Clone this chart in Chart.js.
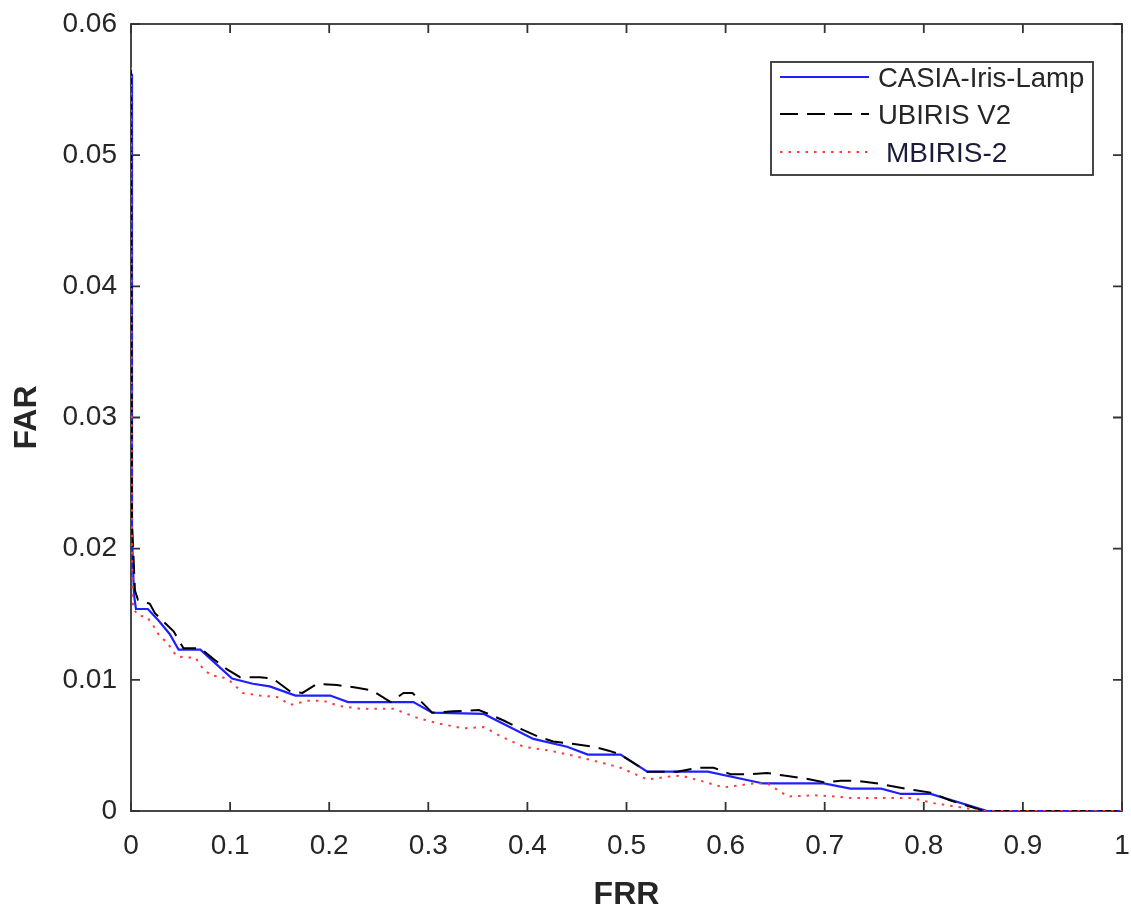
<!DOCTYPE html>
<html><head><meta charset="utf-8">
<script src="https://cdn.jsdelivr.net/npm/chart.js@4.4.1/dist/chart.umd.min.js"></script>
<style>html,body{margin:0;padding:0;background:#fff}#wrap{width:1131px;height:909px;position:relative}</style>
</head><body><div id="wrap"><canvas id="c"></canvas></div>
<script>
const seriesNames = ['CASIA-Iris-Lamp', 'UBIRIS V2', 'MBIRIS-2'];
const axisTitleX = 'FRR';
const axisTitleY = 'FAR';

const casiaFRR = [0, 0.001, 0.003, 0.005, 0.017, 0.028, 0.039, 0.048, 0.070, 0.086, 0.102, 0.123, 0.140, 0.166, 0.201, 0.219, 0.285, 0.304, 0.356, 0.406, 0.440, 0.461, 0.494, 0.521, 0.582, 0.638, 0.699, 0.726, 0.757, 0.777, 0.807, 0.864, 1.0];
const casiaFAR = [0.0562, 0.021, 0.0165, 0.0154, 0.0154, 0.0145, 0.0135, 0.0123, 0.0123, 0.0112, 0.0101, 0.0097, 0.0095, 0.0088, 0.0088, 0.0083, 0.0083, 0.0075, 0.0074, 0.0055, 0.0049, 0.0043, 0.0043, 0.0030, 0.0030, 0.0021, 0.0021, 0.0017, 0.0017, 0.0013, 0.0013, 0, 0];

const ubirisFRR = [0, 0.001, 0.004, 0.007, 0.019, 0.024, 0.032, 0.043, 0.053, 0.070, 0.083, 0.097, 0.110, 0.130, 0.143, 0.161, 0.173, 0.188, 0.208, 0.228, 0.243, 0.262, 0.275, 0.284, 0.292, 0.304, 0.325, 0.351, 0.361, 0.376, 0.395, 0.410, 0.426, 0.447, 0.467, 0.482, 0.494, 0.521, 0.551, 0.572, 0.588, 0.605, 0.625, 0.642, 0.659, 0.679, 0.699, 0.716, 0.733, 0.754, 0.767, 0.790, 0.807, 0.827, 0.861, 1.0];
const ubirisFAR = [0.0565, 0.022, 0.0168, 0.0161, 0.0158, 0.0151, 0.0145, 0.0137, 0.0124, 0.0124, 0.0116, 0.0108, 0.0102, 0.0102, 0.0101, 0.0091, 0.0090, 0.0097, 0.0096, 0.0094, 0.0092, 0.0083, 0.0090, 0.0090, 0.0084, 0.0075, 0.0076, 0.0077, 0.0074, 0.0069, 0.0062, 0.0057, 0.0053, 0.0051, 0.0049, 0.0046, 0.0043, 0.0030, 0.0030, 0.0033, 0.0033, 0.0028, 0.0028, 0.0029, 0.0027, 0.0025, 0.0022, 0.0023, 0.0023, 0.0021, 0.0019, 0.0016, 0.0014, 0.0008, 0, 0];

const mbirisFRR = [0, 0.001, 0.002, 0.007, 0.016, 0.022, 0.029, 0.036, 0.046, 0.056, 0.065, 0.073, 0.082, 0.090, 0.100, 0.113, 0.130, 0.147, 0.161, 0.178, 0.194, 0.211, 0.231, 0.265, 0.289, 0.309, 0.335, 0.356, 0.373, 0.396, 0.423, 0.447, 0.474, 0.494, 0.521, 0.541, 0.555, 0.575, 0.598, 0.628, 0.642, 0.663, 0.689, 0.713, 0.723, 0.787, 0.810, 0.861, 1.0];
const mbirisFAR = [0.0567, 0.020, 0.0155, 0.0149, 0.0148, 0.0142, 0.0133, 0.0129, 0.0118, 0.0117, 0.0117, 0.0108, 0.0103, 0.0103, 0.0099, 0.0090, 0.0088, 0.0087, 0.0081, 0.0084, 0.0084, 0.0080, 0.0078, 0.0078, 0.0071, 0.0067, 0.0063, 0.0064, 0.0057, 0.0049, 0.0046, 0.0042, 0.0037, 0.0033, 0.0024, 0.0026, 0.0027, 0.0023, 0.0018, 0.0021, 0.0021, 0.0011, 0.0012, 0.0011, 0.0010, 0.0010, 0.0006, 0, 0];

const xTicks = [0, 0.1, 0.2, 0.3, 0.4, 0.5, 0.6, 0.7, 0.8, 0.9, 1];
const xTickLabels = ['0', '0.1', '0.2', '0.3', '0.4', '0.5', '0.6', '0.7', '0.8', '0.9', '1'];
const yTicks = [0, 0.01, 0.02, 0.03, 0.04, 0.05, 0.06];
const yTickLabels = ['0', '0.01', '0.02', '0.03', '0.04', '0.05', '0.06'];

const pts = (xs, ys) => xs.map((x, i) => ({ x: x, y: ys[i] }));

Chart.defaults.font.family = "'Liberation Sans', Arial, sans-serif";
Chart.defaults.color = '#262626';

const AXIS_COLOR = '#333333';

const boxPlugin = {
  id: 'matlabBox',
  beforeDatasetsDraw(chart) {
    const { ctx, chartArea: a, scales } = chart;
    const x = scales.x, y = scales.y;
    ctx.save();
    ctx.strokeStyle = AXIS_COLOR;
    ctx.lineWidth = 1.8;
    ctx.strokeRect(a.left, a.top, a.right - a.left, a.bottom - a.top);
    const L = 9;
    ctx.beginPath();
    xTicks.forEach(v => {
      const p = x.getPixelForValue(v);
      ctx.moveTo(p, a.bottom); ctx.lineTo(p, a.bottom - L);
      ctx.moveTo(p, a.top); ctx.lineTo(p, a.top + L);
    });
    yTicks.forEach(v => {
      const p = y.getPixelForValue(v);
      ctx.moveTo(a.left, p); ctx.lineTo(a.left + L, p);
      ctx.moveTo(a.right, p); ctx.lineTo(a.right - L, p);
    });
    ctx.stroke();
    ctx.restore();
  },
  afterDatasetsDraw(chart) {
    const { ctx } = chart;
    const bx = 771, by = 62, bw = 322, bh = 113;
    ctx.save();
    ctx.fillStyle = '#ffffff';
    ctx.fillRect(bx, by, bw, bh);
    ctx.strokeStyle = AXIS_COLOR;
    ctx.lineWidth = 1.8;
    ctx.strokeRect(bx, by, bw, bh);
    const rows = [77, 114, 152];
    const textX = [878, 878, 886];
    chart.data.datasets.forEach((ds, i) => {
      ctx.save();
      ctx.strokeStyle = ds.borderColor;
      ctx.lineWidth = ds.borderWidth;
      ctx.setLineDash(ds.borderDash || []);
      ctx.beginPath();
      ctx.moveTo(780, rows[i]);
      ctx.lineTo(869, rows[i]);
      ctx.stroke();
      ctx.restore();
      ctx.fillStyle = i === 2 ? '#1c1c3a' : '#262626';
      ctx.font = (i === 2 ? '28px' : '27.5px') + " 'Liberation Sans', Arial, sans-serif";
      ctx.textBaseline = 'middle';
      ctx.textAlign = 'left';
      ctx.fillText(ds.label, textX[i], rows[i] + 2);
    });
    ctx.restore();
  }
};

new Chart(document.getElementById('c'), {
  type: 'line',
  data: {
    datasets: [
      { label: seriesNames[0], data: pts(casiaFRR, casiaFAR), borderColor: '#2020ff', borderWidth: 2.2, borderDash: [], pointRadius: 0, tension: 0, order: 2 },
      { label: seriesNames[1], data: pts(ubirisFRR, ubirisFAR), borderColor: '#000000', borderWidth: 2, borderDash: [18, 9], pointRadius: 0, tension: 0, order: 1 },
      { label: seriesNames[2], data: pts(mbirisFRR, mbirisFAR), borderColor: '#ff3c3c', borderWidth: 2, borderDash: [2.5, 6], pointRadius: 0, tension: 0, order: 0 }
    ]
  },
  options: {
    responsive: true,
    maintainAspectRatio: false,
    animation: false,
    layout: { padding: { left: 0, top: 24, right: 9, bottom: 0 } },
    plugins: { legend: { display: false }, tooltip: { enabled: false } },
    scales: {
      x: {
        type: 'linear', min: 0, max: 1,
        grid: { display: false, drawTicks: false },
        border: { display: false },
        afterBuildTicks: s => { s.ticks = xTicks.map(v => ({ value: v })); },
        afterFit: s => { s.height = 98; s.paddingLeft = 0; s.paddingRight = 0; },
        ticks: { padding: 18, font: { size: 28 }, color: '#262626', maxRotation: 0, autoSkip: false,
          callback: (v, i) => xTickLabels[i] },
        title: { display: true, text: axisTitleX, font: { size: 32, weight: 'bold', lineHeight: 1 }, color: '#262626', padding: { top: 0, bottom: -2 } }
      },
      y: {
        type: 'linear', min: 0, max: 0.06,
        grid: { display: false, drawTicks: false },
        border: { display: false },
        afterBuildTicks: s => { s.ticks = yTicks.map(v => ({ value: v })); },
        afterFit: s => { s.width = 131; s.paddingTop = 0; s.paddingBottom = 0; },
        ticks: { padding: 14, font: { size: 28 }, color: '#262626', autoSkip: false,
          callback: (v, i) => yTickLabels[i] },
        title: { display: true, text: axisTitleY, font: { size: 32, weight: 'bold', lineHeight: 1.2 }, color: '#262626', padding: { top: 8, bottom: 0 } }
      }
    }
  },
  plugins: [boxPlugin]
});
</script>
</body></html>
